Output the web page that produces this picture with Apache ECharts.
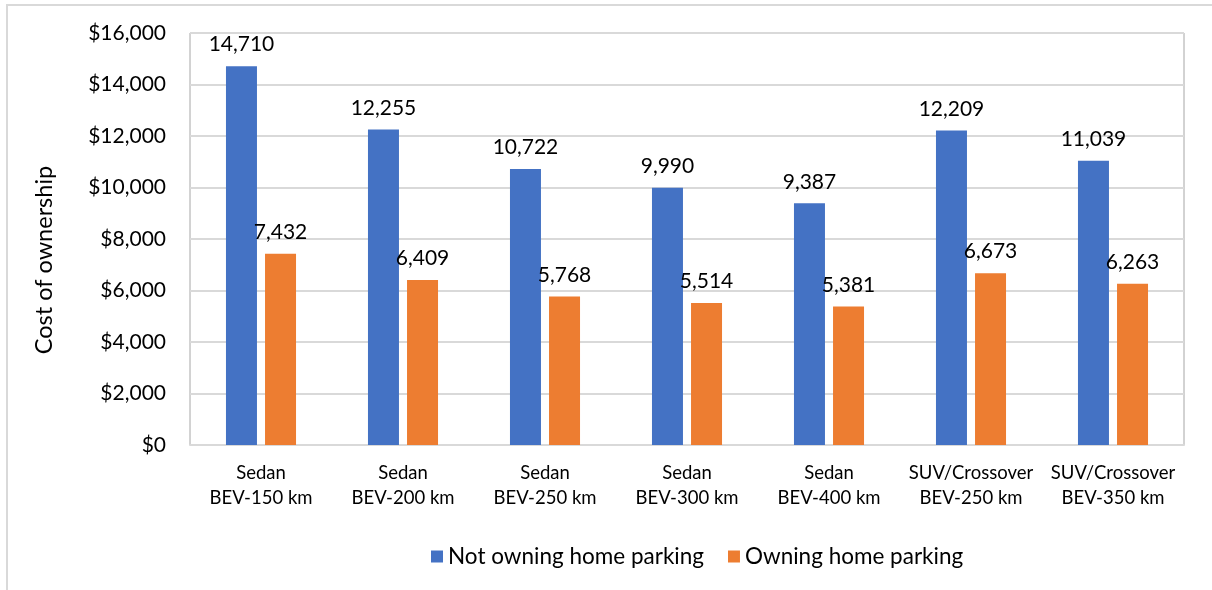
<!DOCTYPE html>
<html>
<head>
<meta charset="utf-8">
<script src="https://cdn.jsdelivr.net/npm/echarts@6/dist/echarts.min.js"></script>
<style>
  html, body { margin: 0; padding: 0; background: #fff; }
  #chart { width: 1212px; height: 590px; }
</style>
</head>
<body>
<div id="chart"></div>
<script>
const categories = [
  "Sedan\nBEV-150 km",
  "Sedan\nBEV-200 km",
  "Sedan\nBEV-250 km",
  "Sedan\nBEV-300 km",
  "Sedan\nBEV-400 km",
  "SUV/Crossover\nBEV-250 km",
  "SUV/Crossover\nBEV-350 km",
];
const notOwningParking = [14710, 12255, 10722, 9990, 9387, 12209, 11039];
const owningParking = [7432, 6409, 5768, 5514, 5381, 6673, 6263];
const seriesNames = ["Not owning home parking", "Owning home parking"];
const yTitle = "Cost of ownership";

const font = "Lato, 'Open Sans', sans-serif";
const chart = echarts.init(document.getElementById("chart"), null, { renderer: "canvas" });

const fmt = (v) => v.toLocaleString("en-US");

const barLabel = {
  show: true,
  position: "top",
  distance: 11,
  color: "#000",
  fontFamily: font,
  fontSize: 21,
  formatter: (p) => fmt(p.value),
};

const option = {
  animation: false,
  textStyle: { fontFamily: font },
  graphic: [
    // outer chart frame (only top and left edges visible in the crop)
    {
      type: "polyline",
      shape: { points: [[7, 590], [7, 5], [1212, 5]] },
      style: { stroke: "#d9d9d9", lineWidth: 2, fill: null },
      silent: true,
    },
    // y axis title, sits a bit below the plot's middle like the original
    {
      type: "text",
      x: 44,
      y: 260,
      rotation: Math.PI / 2,
      style: {
        text: yTitle,
        fill: "#000",
        font: "23.5px " + font,
        align: "center",
        verticalAlign: "middle",
      },
      silent: true,
    },
  ],
  grid: {
    left: 190,
    right: 28,
    top: 33,
    bottom: 145,
    show: true,
    borderColor: "#a6a6a6",
    borderWidth: 1,
  },
  legend: {
    top: 540,
    left: 426,
    itemWidth: 12,
    itemHeight: 12,
    itemGap: 24,
    icon: "rect",
    textStyle: { fontFamily: font, fontSize: 22.5, color: "#000" },
    data: seriesNames,
  },
  xAxis: {
    type: "category",
    data: categories,
    axisLine: { lineStyle: { color: "#d9d9d9", width: 2 } },
    axisTick: { show: false },
    axisLabel: {
      color: "#000",
      fontFamily: font,
      fontSize: 18.5,
      lineHeight: 25,
      margin: 16,
      interval: 0,
    },
  },
  yAxis: {
    type: "value",
    min: 0,
    max: 16000,
    interval: 2000,
    axisLine: { show: false },
    axisTick: { show: false },
    splitLine: { lineStyle: { color: "#d9d9d9", width: 2 } },
    axisLabel: {
      color: "#000",
      fontFamily: font,
      fontSize: 21,
      margin: 24,
      formatter: (v) => "$" + fmt(v),
    },
  },
  series: [
    {
      name: seriesNames[0],
      type: "bar",
      data: notOwningParking,
      barWidth: 31,
      barGap: "26%",
      itemStyle: { color: "#4472C4" },
      label: barLabel,
    },
    {
      name: seriesNames[1],
      type: "bar",
      data: owningParking,
      barWidth: 31,
      itemStyle: { color: "#ED7D31" },
      label: barLabel,
    },
  ],
};

chart.setOption(option);
window.addEventListener("resize", () => chart.resize());
</script>
</body>
</html>
